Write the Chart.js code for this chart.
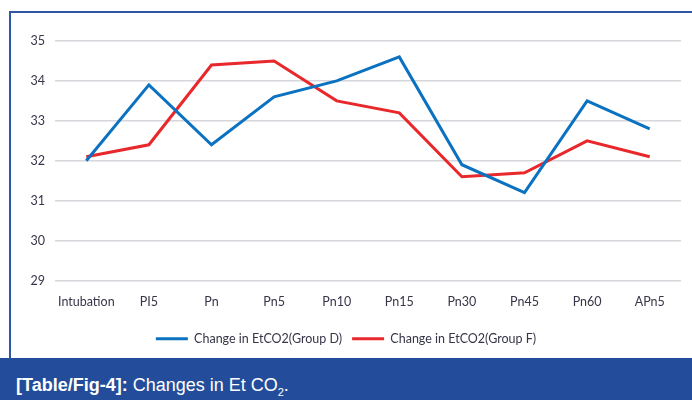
<!DOCTYPE html>
<html>
<head>
<meta charset="utf-8">
<script src="https://cdn.jsdelivr.net/npm/chart.js@4.4.0/dist/chart.umd.min.js"></script>
<style>
  body { margin: 0; background: #fff; width: 692px; height: 400px; overflow: hidden; }
  #frame { position: absolute; left: 9px; top: 11px; width: 683px; height: 347px;
           border-left: 2px solid #2f57a6; border-top: 2px solid #2f57a6; box-sizing: border-box; }
  #wrap { position: absolute; left: 0; top: 0; width: 681px; height: 345px; }
  #banner { position: absolute; left: 0; top: 358px; width: 692px; height: 42px; background: #234d9b;
            color: #fff; font-family: "Liberation Sans", Arial, sans-serif; font-size: 18px; }
  #banner span.t { position: absolute; left: 16px; top: 17px; }
  sub { font-size: 11px; }
</style>
</head>
<body>
<div id="frame"><div id="wrap"><canvas id="lineChart"></canvas></div></div>
<div id="banner"><span class="t"><b>[Table/Fig-4]:</b> Changes in Et CO<sub>2</sub>.</span></div>
<script>
var labels = ['Intubation', 'PI5', 'Pn', 'Pn5', 'Pn10', 'Pn15', 'Pn30', 'Pn45', 'Pn60', 'APn5'];
var groupD = [32.0, 33.9, 32.4, 33.6, 34.0, 34.6, 31.9, 31.2, 33.5, 32.8];
var groupF = [32.1, 32.4, 34.4, 34.5, 33.5, 33.2, 31.6, 31.7, 32.5, 32.1];

var textColor = '#363648';
var ctx = document.getElementById('lineChart').getContext('2d');
var myChart = new Chart(ctx, {
    type: 'line',
    data: {
        labels: labels,
        datasets: [{
            label: 'Change in EtCO2(Group D)',
            data: groupD,
            borderColor: '#0a72c0',
            backgroundColor: '#0a72c0',
            borderWidth: 3,
            pointRadius: 0,
            tension: 0
        }, {
            label: 'Change in EtCO2(Group F)',
            data: groupF,
            borderColor: '#e8282b',
            backgroundColor: '#e8282b',
            borderWidth: 3,
            pointRadius: 0,
            tension: 0
        }]
    },
    options: {
        responsive: true,
        maintainAspectRatio: false,
        animation: false,
        layout: { padding: { left: 0, right: 11, top: 28, bottom: 3 } },
        scales: {
            x: {
                offset: true,
                afterFit: function (s) { s.height = 42; },
                grid: { display: false },
                border: { display: false },
                ticks: { color: textColor, font: { size: 12.5, family: 'Lato' }, padding: 6, maxRotation: 0 }
            },
            y: {
                min: 29,
                max: 35,
                afterFit: function (s) { s.width = 44; },
                grid: { color: '#d6d6dc', lineWidth: 1.5, drawTicks: false },
                border: { display: false },
                ticks: { stepSize: 1, color: textColor, font: { size: 12.5, family: 'Lato' }, padding: 10 }
            }
        },
        plugins: {
            legend: {
                position: 'bottom',
                labels: {
                    usePointStyle: true,
                    pointStyle: 'line',
                    pointStyleWidth: 32,
                    boxHeight: 12,
                    padding: 10,
                    color: textColor,
                    font: { size: 12.5, family: 'Lato' }
                }
            },
            tooltip: { enabled: false }
        }
    }
});
</script>
</body>
</html>
